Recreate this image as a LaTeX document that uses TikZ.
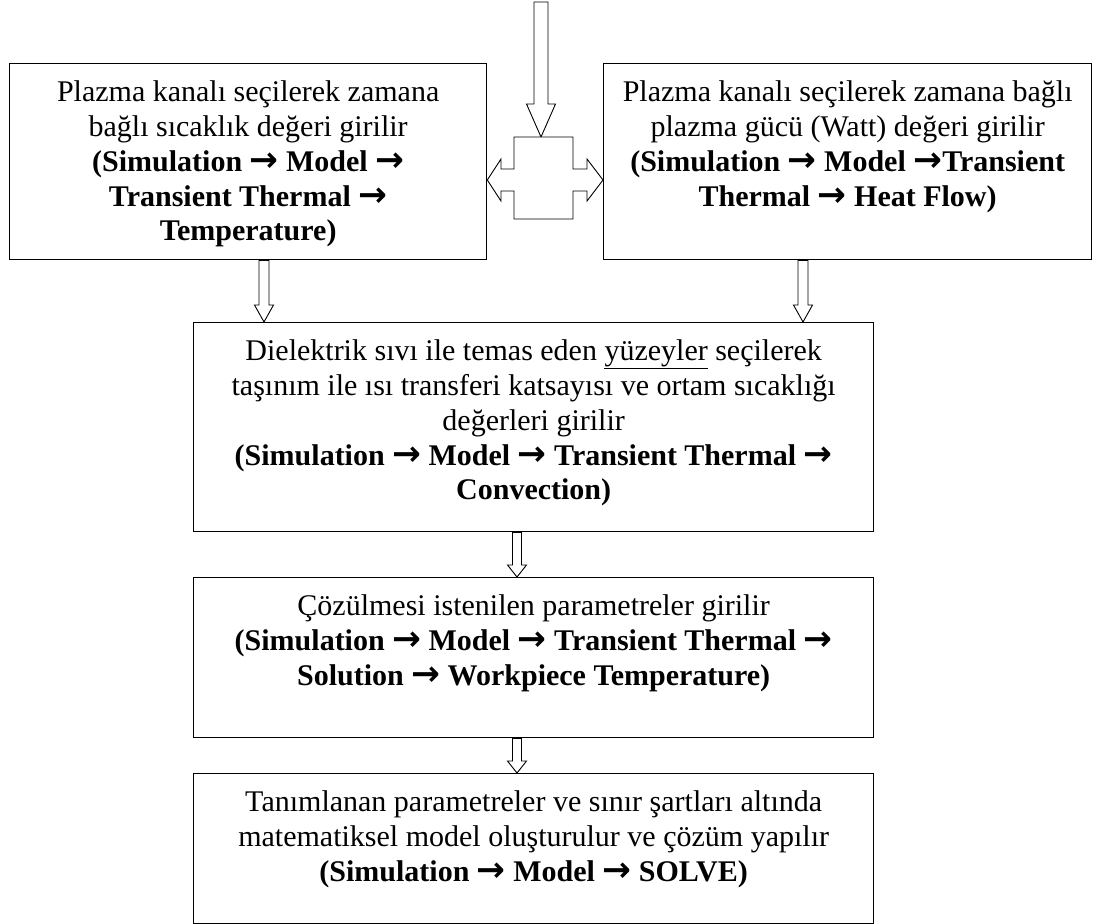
\documentclass[tikz,border=0pt]{standalone}
\usepackage{fontspec}
\setmainfont{Liberation Serif}
\newfontfamily\arrowfont[Scale=1.15]{DejaVu Sans}
\usetikzlibrary{calc}
\newcommand{\then}{{\arrowfont\bfseries →}}
\newcommand{\boxtext}[3]{\parbox[t][#1][t]{#2}{\centering\fontsize{30}{34.8}\selectfont\rule{0pt}{38pt}#3}}
% hollow block arrow: start, end, shaft half width, head half width, head length
\newcommand{\hollowarrow}[5]{\draw[hollow] let \p1=(#1), \p2=(#2) in (\x1-#3,\y1) -- (\x1-#3,\y2+#5) -- (\x1-#4,\y2+#5) -- (\x1,\y2) -- (\x1+#4,\y2+#5) -- (\x1+#3,\y2+#5) -- (\x1+#3,\y1) -- cycle;}
\begin{document}
\begin{tikzpicture}[x=1pt,y=1pt]
\tikzset{stepbox/.style={draw, line width=1.3pt, inner sep=0pt, anchor=north west},
hollow/.style={draw, line width=0.9pt, fill=white, line join=miter}}
\useasboundingbox (0,0) rectangle (1093,-924);
\node[stepbox] (box0) at (9,-63) {\boxtext{196pt}{477pt}{Plazma kanalı seçilerek zamana\\ bağlı sıcaklık değeri girilir\\ \textbf{(Simulation \then{} Model \then\\ Transient Thermal \then\\ Temperature)}}};
\node[stepbox] (box1) at (603,-63) {\boxtext{196pt}{488pt}{Plazma kanalı seçilerek zamana bağlı\\ plazma gücü (Watt) değeri girilir\\ \textbf{(Simulation \then{} Model \then Transient\\ Thermal \then{} Heat Flow)}}};
\node[stepbox] (box2) at (193,-322) {\boxtext{209pt}{680pt}{Dielektrik sıvı ile temas eden \underline{yüzeyler} seçilerek\\ taşınım ile ısı transferi katsayısı ve ortam sıcaklığı\\ değerleri girilir\\ \textbf{(Simulation \then{} Model \then{} Transient Thermal \then\\ Convection)}}};
\node[stepbox] (box3) at (193,-577) {\boxtext{160pt}{680pt}{Çözülmesi istenilen parametreler girilir\\ \textbf{(Simulation \then{} Model \then{} Transient Thermal \then\\ Solution \then{} Workpiece Temperature)}}};
\node[stepbox] (box4) at (193,-773) {\boxtext{150pt}{680pt}{Tanımlanan parametreler ve sınır şartları altında\\ matematiksel model oluşturulur ve çözüm yapılır\\ \textbf{(Simulation \then{} Model \then{} SOLVE)}}};
\coordinate (in) at (541,-2);
\coordinate (split) at (543,-180);
\coordinate (splittop) at (541,-137);
\hollowarrow{in}{splittop}{7pt}{14.5pt}{33pt}
\draw[hollow] (514,-137) -- (573,-137) -- (573,-169) -- (587,-169) -- (587,-159) -- (box1.west |- split) -- (587,-201) -- (587,-191) -- (573,-191) -- (573,-219) -- (514,-219) -- (514,-191) -- (501,-191) -- (501,-201) -- (box0.east |- split) -- (501,-159) -- (501,-169) -- (514,-169) -- cycle;
\hollowarrow{$(box0.south west)+(255,0)$}{box2.north}{5pt}{9.5pt}{17pt}
\hollowarrow{$(box1.south west)+(200,0)$}{box2.north}{5pt}{9.5pt}{17pt}
\hollowarrow{$(box2.south west)+(324,0)$}{box3.north}{4.5pt}{9.5pt}{12pt}
\hollowarrow{$(box3.south west)+(324,0)$}{box4.north}{4.5pt}{9.5pt}{12pt}
\end{tikzpicture}
\end{document}
